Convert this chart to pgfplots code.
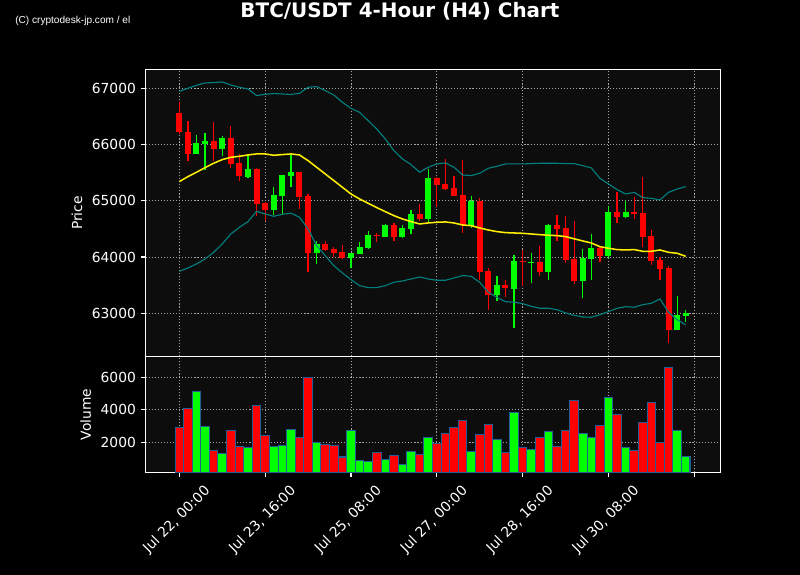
\documentclass[border=0pt]{standalone}
\usepackage{fontspec}
\setmainfont{DejaVu Sans}
\newfontfamily\wmfont{Liberation Sans}
\usepackage{pgfplots}
\usepackage{pgfplotstable}
\pgfplotsset{compat=1.18}

\definecolor{axbg}{RGB}{13,13,13}
\definecolor{candred}{RGB}{255,0,0}
\definecolor{candgreen}{RGB}{0,255,0}
\definecolor{bandteal}{RGB}{0,128,128}
\definecolor{smayellow}{RGB}{255,240,0}
\definecolor{voledge}{RGB}{35,95,150}
\definecolor{gridgray}{RGB}{165,165,165}

% 4h candles, i = candle number from Jul 22 00:00; v = volume
\pgfplotstableread{
i  o     h     l     c     v
0  66562 66751 66188 66218 2882
1  66224 66425 65708 65839 4092
4  66070 66396 65708 65927 1508
6  66117 66324 65584 65655 2738
7  65673 65827 65353 65436 1754
9  65566 65590 64736 64950 4277
10 64961 64970 64647 64843 2431
14 65507 65520 64855 65074 2267
15 65086 65127 63729 64079 6000
17 64227 64280 64110 64126 1877
18 64144 64173 63996 64079 1815
19 64090 64209 63966 63990 1097
23 64398 64422 64274 64369 1385
25 64570 64600 64292 64363 1200
28 64766 64938 64647 64677 1262
30 65406 65415 64884 65287 1938
31 65299 65744 65200 65210 2554
32 65228 65436 65085 65092 2882
33 65104 65720 64422 64576 3354
35 64997 65056 63598 63741 2492
36 63753 63812 63065 63332 3108
38 63504 63587 63284 63444 1385
40 63930 64126 63480 63907 1692
42 63919 64190 63658 63741 2308
44 64576 64748 64280 64505 1754
45 64517 64724 63895 63954 2738
46 63966 64647 63522 63581 4585
49 64161 64170 63907 64025 3046
51 64796 65163 64600 64719 3723
53 64796 65074 64677 64760 1508
54 64784 65418 64173 64363 3231
55 64375 64487 63865 63936 4462
56 63948 64007 63598 63788 2000
57 63806 63847 62467 62710 6615
}\down

\pgfplotstableread{
i  o     h     l     c     v
2  65839 66170 65830 66028 5138
3  66016 66200 65554 66070 2985
5  65927 66147 65791 66117 1323
8  65430 65815 65412 65566 1692
11 64843 65246 64754 65104 1754
12 65092 65459 64754 65459 1815
13 65447 65815 65240 65507 2800
16 64079 64292 63877 64227 2000
20 63990 64075 63800 64067 2738
21 64055 64262 64050 64179 892
22 64167 64470 64144 64393 810
24 64363 64588 64351 64570 954
26 64363 64570 64339 64517 646
27 64499 64831 64410 64766 1446
29 64677 65566 64630 65406 2308
34 64558 65092 64511 64997 1446
37 63332 63658 63213 63504 2185
39 63433 64037 62733 63930 3846
41 63901 64079 63545 63919 1549
43 63741 64588 63593 64576 2677
47 63581 64138 63267 63984 2554
48 63966 64404 63598 64161 2308
50 64025 64902 63984 64796 4769
52 64719 64991 64689 64796 1692
58 62710 63302 62705 62970 2738
59 62959 63053 62840 63000 1138
}\up

% moving average and Bollinger bands
\pgfplotstableread{
i  sma   bu    bl
0  65341 66947 63747
1  65430 67000 63806
2  65507 67053 63877
3  65590 67095 63966
4  65667 67101 64084
5  65732 67113 64233
6  65773 67059 64410
7  65791 67018 64529
8  65815 66988 64630
9  65833 66870 64813
10 65833 66893 64766
11 65809 66905 64724
12 65821 66899 64760
13 65833 66890 64781
14 65815 66911 64707
15 65714 67018 64499
16 65596 67030 64203
17 65477 66959 64025
18 65359 66881 63847
19 65240 66751 63717
20 65121 66644 63598
21 65033 66573 63492
22 64956 66425 63456
23 64879 66277 63456
24 64807 66099 63492
25 64736 65892 63551
26 64677 65744 63575
27 64630 65643 63610
28 64588 65507 63646
29 64606 65596 63610
30 64618 65655 63587
31 64624 65673 63587
32 64606 65596 63628
33 64570 65459 63670
34 64558 65447 63658
35 64517 65489 63551
36 64481 65578 63373
37 64452 65613 63284
38 64434 65655 63207
39 64428 65655 63196
40 64422 65655 63172
41 64410 65661 63124
42 64398 65667 63089
43 64387 65667 63089
44 64381 65667 63065
45 64363 65661 63006
46 64324 65661 62965
47 64286 65625 62935
48 64250 65584 62929
49 64185 65400 62976
50 64156 65299 63030
51 64132 65199 63089
52 64126 65121 63118
53 64132 65150 63107
54 64102 65056 63154
55 64102 65044 63178
56 64126 65015 63255
57 64084 65150 63018
58 64067 65210 62887
59 64013 65252 62793
}\bands

\pgfplotsset{
  darkpanel/.style={
    scale only axis,
    anchor=south west,
    width=413.86bp,
    xmin=-3.94, xmax=63.03,
    xtick={0,10,...,60},
    axis background/.style={fill=axbg},
    axis line style={white, line width=0.8bp},
    tick style={white, line width=0.8bp},
    major tick length=3.4bp,
    tick align=outside,
    xtick pos=bottom, ytick pos=left,
    grid=major,
    grid style={gridgray, line width=0.6bp, dash pattern=on 0.8bp off 1.4bp},
    tick label style={text=white},
    ylabel style={text=white},
    /pgf/number format/assume math mode=true,
    /pgf/number format/1000 sep={},
    scaled y ticks=false,
  },
  wick/.style={draw=none, forget plot,
    error bars/.cd, y dir=plus, y explicit, error mark=none,
    error bar style={draw=#1, line width=0.9bp}},
  body/.style={draw=none, forget plot,
    error bars/.cd, y dir=plus, y explicit, error mark=none,
    error bar style={draw=#1, line width=4.3bp}},
}

\begin{document}
\begin{tikzpicture}
\fill[black] (0,0) rectangle (576bp,414bp);

\node[font=\fontsize{14.4}{17}\selectfont\bfseries, text=white] at (288bp,406bp) {BTC/USDT 4-Hour (H4) Chart};
\node[anchor=west, font=\wmfont\fontsize{7.3}{8}\selectfont, text=white, inner sep=0pt] at (10.8bp,398.9bp) {(C) cryptodesk-jp.com / el};

% price panel
\begin{axis}[darkpanel,
  at={(104.76bp,157.32bp)},
  height=206.64bp,
  ymin=62232, ymax=67334,
  ytick={63000,64000,...,67000},
  xticklabels={},
  xtick style={draw=none},
  ylabel={Price},
]
\addplot[wick=candred] table[x=i, y=l, y error expr=\thisrow{h}-\thisrow{l}] {\down};
\addplot[wick=candgreen] table[x=i, y=l, y error expr=\thisrow{h}-\thisrow{l}] {\up};
\addplot[body=candred] table[x=i, y=c, y error expr=\thisrow{o}-\thisrow{c}] {\down};
\addplot[body=candgreen] table[x=i, y=o, y error expr=\thisrow{c}-\thisrow{o}] {\up};
\addplot[bandteal, line width=0.8bp] table[x=i, y=bu] {\bands};
\addplot[bandteal, line width=0.8bp] table[x=i, y=bl] {\bands};
\addplot[smayellow, line width=1.1bp] table[x=i, y=sma] {\bands};
\end{axis}

% volume panel
\begin{axis}[darkpanel,
  at={(104.76bp,73.94bp)},
  height=83.38bp,
  ymin=154, ymax=7280,
  ytick={2000,4000,6000},
  xticklabels={{Jul 22, 00:00},{Jul 23, 16:00},{Jul 25, 08:00},{Jul 27, 00:00},{Jul 28, 16:00},{Jul 30, 08:00},{}},
  xticklabel style={rotate=45, anchor=center, xshift=-23bp, yshift=-20.5bp},
  ylabel={Volume},
  ybar, bar width=1, bar shift=0pt,
]
\addplot[fill=candred, draw=voledge, line width=0.75bp] table[x=i, y=v] {\down};
\addplot[fill=candgreen, draw=voledge, line width=0.75bp] table[x=i, y=v] {\up};
\end{axis}

\pgfresetboundingbox
\path[use as bounding box] (0,0) rectangle (576bp,414bp);
\end{tikzpicture}
\end{document}
